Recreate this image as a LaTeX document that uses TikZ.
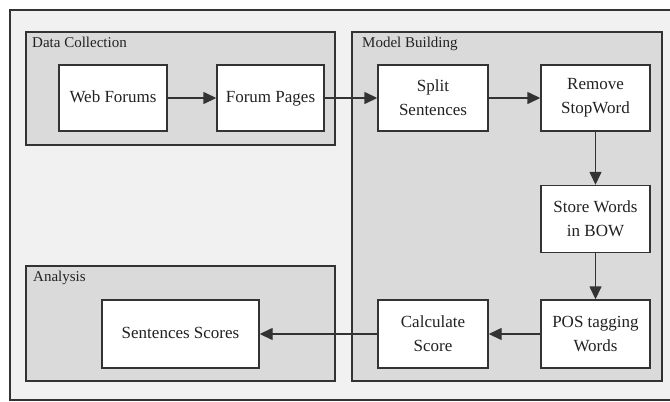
\documentclass[tikz,border=0pt]{standalone}
\usepackage{fontspec}
\setmainfont{Liberation Serif}
\usetikzlibrary{arrows.meta}
\definecolor{framefill}{HTML}{F1F1F1}
\definecolor{groupfill}{HTML}{DADADA}
\definecolor{linecol}{HTML}{333333}
\definecolor{textcol}{HTML}{222222}
\tikzset{
  procbox/.style={draw=linecol, line width=1.4pt, fill=white, inner sep=0pt, align=center,
    text=textcol, font=\fontsize{17}{24}\selectfont},
  oneline/.style={text height=12pt, text depth=4pt},
  groupbox/.style={draw=linecol, line width=1.4pt, fill=groupfill},
  grouplabel/.style={anchor=north west, inner sep=0pt, text=textcol, font=\fontsize{15}{18}\selectfont},
  flow/.style={draw=linecol, line width=1.4pt, -{Triangle[length=13pt,width=12pt]}}
}
\begin{document}
\begin{tikzpicture}[x=1pt,y=-1pt]
\useasboundingbox (0,0) rectangle (670,402);
% outer frame
\fill[framefill] (10,10) rectangle (670,400);
\draw[linecol, line width=1.4pt] (670,10) -- (10,10) -- (10,400) -- (670,400);
% groups
\draw[groupbox] (26,32) rectangle (335,145);
\draw[groupbox] (352,32) rectangle (662,381);
\draw[groupbox] (26,266) rectangle (335,381);
\node[grouplabel] (lbl1) at (32,37) {Data Collection};
\node[grouplabel] (lbl2) at (362,37) {Model Building};
\node[grouplabel] (lbl3) at (33,271) {Analysis};
% process boxes
\node[procbox, oneline, minimum width=108pt, minimum height=66pt] (web) at (113,98) {Web Forums};
\node[procbox, oneline, minimum width=107pt, minimum height=66pt] (pages) at (270.5,98) {Forum Pages};
\node[procbox, minimum width=110pt, minimum height=66pt] (split) at (433,98) {Split\\Sentences};
\node[procbox, minimum width=109pt, minimum height=66pt] (remove) at (595.5,98) {Remove\\StopWord};
\node[procbox, minimum width=109pt, minimum height=67pt] (store) at (595.5,219) {Store Words\\in BOW};
\node[procbox, minimum width=109pt, minimum height=68pt] (pos) at (595.5,334) {POS tagging\\Words};
\node[procbox, minimum width=110pt, minimum height=68pt] (calc) at (433,334) {Calculate\\Score};
\node[procbox, oneline, minimum width=157pt, minimum height=68pt] (scores) at (180.5,334) {Sentences Scores};
% connectors
\draw[flow] (web) -- (pages);
\draw[flow] (pages) -- (split);
\draw[flow] (split) -- (remove);
\draw[flow] (remove) -- (store);
\draw[flow] (store) -- (pos);
\draw[flow] (pos) -- (calc);
\draw[flow] (calc) -- (scores);
\end{tikzpicture}
\end{document}
